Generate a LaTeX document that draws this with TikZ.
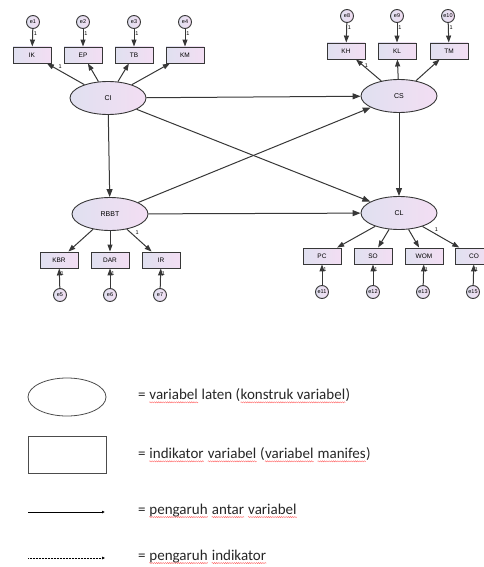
\documentclass[tikz,border=0pt]{standalone}
\usepackage{fontspec}
\setmainfont{Carlito}
\newfontfamily\amosfont{Liberation Sans}
\usepackage{tikz}
\usetikzlibrary{arrows.meta, shapes.geometric, decorations.pathmorphing}

\definecolor{amosleft}{RGB}{224,224,240}
\definecolor{amosright}{RGB}{243,222,243}
\definecolor{amosline}{RGB}{55,55,55}

% red wavy spelling mark under a word
\newcommand{\spell}[1]{\tikz[baseline=(spw.base)]{\node[inner sep=0pt] (spw) {#1};
    \draw[red!60!white, line width=0.4pt, decorate, decoration={snake, amplitude=0.6pt, segment length=2.2pt}]
    ([yshift=-2.5pt]spw.base west) -- ([yshift=-2.5pt]spw.base east);}}

\tikzset{
    latent/.style={ellipse, draw=amosline, line width=0.9pt, left color=amosleft, right color=amosright,
        minimum width=76pt, minimum height=33pt, inner sep=0pt, font=\amosfont\fontsize{7}{8}\selectfont},
    indicator/.style={rectangle, draw=amosline, line width=0.9pt, left color=amosleft, right color=amosright,
        minimum width=38pt, minimum height=16pt, inner sep=0pt, font=\amosfont\fontsize{6.5}{7}\selectfont},
    error/.style={circle, draw=amosline, line width=0.9pt, left color=amosleft, right color=amosright,
        minimum size=13pt, inner sep=0pt, font=\amosfont\fontsize{5.5}{6}\selectfont},
    path/.style={draw=amosline, line width=1pt, -{Triangle[length=8pt,width=6pt]}},
    load/.style={draw=amosline, line width=1pt, -{Triangle[length=7pt,width=5pt]}},
    one/.style={font=\amosfont\fontsize{5.5}{6}\selectfont, inner sep=0.8pt},
    legendtext/.style={anchor=west, inner sep=0pt, text=black!85, font=\fontsize{15}{17}\selectfont},
}

\begin{document}
\begin{tikzpicture}[x=1pt, y=-1pt]
    \useasboundingbox (0,0) rectangle (484,567);

    % latent variables
    \node[latent] (CI) at (108, 98) {CI};
    \node[latent] (CS) at (399, 96) {CS};
    \node[latent] (RBBT) at (110, 214) {RBBT};
    \node[latent] (CL) at (399, 213) {CL};

    % indicators of CI
    \node[indicator] (IK) at (32, 55) {IK};
    \node[indicator] (EP) at (83, 55) {EP};
    \node[indicator] (TB) at (134, 55) {TB};
    \node[indicator] (KM) at (185, 55) {KM};
    \node[error] (e1) at (33, 22) {e1};
    \node[error] (e2) at (83, 22) {e2};
    \node[error] (e3) at (134, 22) {e3};
    \node[error] (e4) at (185, 22) {e4};

    % indicators of CS
    \node[indicator] (KH) at (346, 51) {KH};
    \node[indicator] (KL) at (397, 51) {KL};
    \node[indicator] (TM) at (449, 51) {TM};
    \node[error] (e8) at (347, 16) {e8};
    \node[error] (e9) at (397, 16) {e9};
    \node[error] (e10) at (448, 16) {e10};

    % indicators of RBBT
    \node[indicator] (KBR) at (59, 260) {KBR};
    \node[indicator] (DAR) at (110, 260) {DAR};
    \node[indicator] (IR) at (161, 260) {IR};
    \node[error] (e5) at (60, 295) {e5};
    \node[error] (e6) at (110, 295) {e6};
    \node[error] (e7) at (160, 295) {e7};

    % indicators of CL
    \node[indicator] (PC) at (322, 256) {PC};
    \node[indicator] (SO) at (373, 256) {SO};
    \node[indicator] (WOM) at (424, 256) {WOM};
    \node[indicator] (CO) at (474, 256) {CO};
    \node[error] (e11) at (322, 292) {e11};
    \node[error] (e12) at (373, 292) {e12};
    \node[error] (e13) at (423, 292) {e13};
    \node[error] (e15) at (473, 292) {e15};

    % structural paths
    \draw[path] (CI) -- (CS);
    \draw[path] (CI) -- (CL);
    \draw[path] (CI) -- (RBBT);
    \draw[path] (RBBT) -- (CS);
    \draw[path] (RBBT) -- (CL);
    \draw[path] (CS) -- (CL);

    % loadings
    \draw[load] (CI) -- node[one, pos=0.72, above right] {1} (IK);
    \draw[load] (CI) -- (EP);
    \draw[load] (CI) -- (TB);
    \draw[load] (CI) -- (KM);
    \draw[load] (CS) -- node[one, pos=0.7, right] {1} (KH);
    \draw[load] (CS) -- (KL);
    \draw[load] (CS) -- (TM);
    \draw[load] (RBBT) -- (KBR);
    \draw[load] (RBBT) -- (DAR);
    \draw[load] (RBBT) -- node[one, pos=0.3, above right] {1} (IR);
    \draw[load] (CL) -- (PC);
    \draw[load] (CL) -- (SO);
    \draw[load] (CL) -- (WOM);
    \draw[load] (CL) -- node[one, pos=0.3, above right] {1} (CO);

    % error terms
    \draw[load] (e1) -- node[one, pos=0.25, right] {1} (IK);
    \draw[load] (e2) -- node[one, pos=0.25, right] {1} (EP);
    \draw[load] (e3) -- node[one, pos=0.25, right] {1} (TB);
    \draw[load] (e4) -- node[one, pos=0.25, right] {1} (KM);
    \draw[load] (e8) -- node[one, pos=0.25, right] {1} (KH);
    \draw[load] (e9) -- node[one, pos=0.25, right] {1} (KL);
    \draw[load] (e10) -- node[one, pos=0.25, right] {1} (TM);
    \draw[load] (e5) -- node[one, pos=0.75, right] {1} (KBR);
    \draw[load] (e6) -- node[one, pos=0.75, right] {1} (DAR);
    \draw[load] (e7) -- node[one, pos=0.75, right] {1} (IR);
    \draw[load] (e11) -- node[one, pos=0.75, right] {1} (PC);
    \draw[load] (e12) -- node[one, pos=0.75, right] {1} (SO);
    \draw[load] (e13) -- node[one, pos=0.75, right] {1} (WOM);
    \draw[load] (e15) -- node[one, pos=0.75, right] {1} (CO);

    % legend
    \node[ellipse, draw=black!70, line width=0.8pt, minimum width=78pt, minimum height=38pt] (legLatent) at (67, 397) {};
    \node[legendtext] (txtLatent) at (138, 396) {= \spell{variabel} laten (\spell{konstruk variabel})};
    \node[rectangle, draw=black!70, line width=0.8pt, minimum width=78pt, minimum height=37pt] (legIndicator) at (67, 455) {};
    \node[legendtext] (txtIndicator) at (138, 455) {= \spell{indikator} \spell{variabel} (\spell{variabel} \spell{manifes})};
    \coordinate (solidA) at (28, 512);
    \coordinate (solidB) at (105, 512);
    \draw[line width=1pt, -{Latex[length=3pt,width=3pt]}] (solidA) -- (solidB);
    \node[legendtext] (txtSolid) at (138, 511) {= \spell{pengaruh} \spell{antar} \spell{variabel}};
    \coordinate (dotA) at (28, 558);
    \coordinate (dotB) at (105, 558);
    \draw[line width=0.5pt, densely dotted, -{Latex[length=3pt,width=3pt]}] (dotA) -- (dotB);
    \node[legendtext] (txtDotted) at (138, 557) {= \spell{pengaruh} \spell{indikator}};
\end{tikzpicture}
\end{document}
